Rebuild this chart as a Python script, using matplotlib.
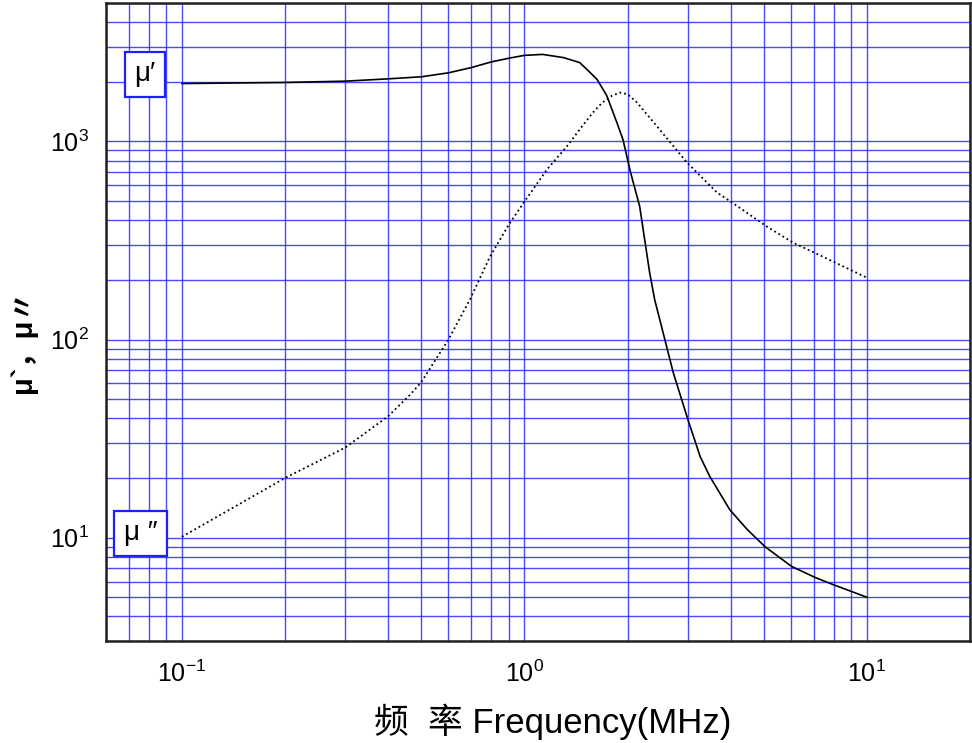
import matplotlib
matplotlib.use("Agg")
import matplotlib.pyplot as plt

plt.rcParams["font.family"] = ["Liberation Sans", "Noto Sans CJK SC", "DejaVu Sans"]
plt.rcParams["mathtext.fontset"] = "custom"
plt.rcParams["mathtext.rm"] = "Liberation Sans"
plt.rcParams["mathtext.it"] = "Liberation Sans"
plt.rcParams["axes.unicode_minus"] = False

freq_real = [0.1, 0.2, 0.3, 0.4, 0.5, 0.6, 0.7, 0.8, 0.9, 1.0, 1.13, 1.3, 1.45,
             1.55, 1.63, 1.74, 1.86, 1.94, 2.04, 2.17, 2.32, 2.40, 2.49, 2.57,
             2.72, 3.0, 3.26, 3.48, 3.98, 4.47, 5.04, 6.03, 7.05, 7.95, 10]
mu_real = [1960, 1985, 2015, 2070, 2120, 2220, 2360, 2520, 2630, 2720, 2750, 2650, 2500,
           2240, 2055, 1700, 1250, 1020, 700, 470, 218, 159, 124, 100,
           68, 39.5, 25.6, 20.3, 13.8, 11.0, 9.0, 7.15, 6.3, 5.8, 5.0]

# mu'' (imaginary part)
freq_imag = [0.1, 0.2, 0.3, 0.4, 0.464, 0.5, 0.6, 0.693, 0.793, 0.9, 1.0, 1.164,
             1.33, 1.45, 1.585, 1.69, 1.8, 1.9, 2.0, 2.13, 2.44, 2.98, 3.65, 3.98,
             5.1, 6.07, 7.95, 10]
mu_imag = [10.1, 20, 28.5, 41, 52.7, 61, 100, 159, 262, 380, 497, 722,
           944, 1150, 1400, 1574, 1700, 1766, 1730, 1574, 1190, 783, 552, 500,
           372, 309, 248, 205]

fig = plt.figure(figsize=(9.72, 7.43), dpi=100)
ax = fig.add_axes([0.109, 0.137, 0.889, 0.859])

ax.plot(freq_real, mu_real, "-", color="black", lw=1.2, zorder=3)
ax.plot(freq_imag, mu_imag, ":", color="black", lw=1.3, zorder=3)

ax.set_xscale("log")
ax.set_yscale("log")
ax.set_xlim(0.06, 20)
ax.set_ylim(3, 5000)

ax.grid(True, which="both", color="#2a2aff", lw=1.0, alpha=0.85)
ax.set_axisbelow(True)
ax.tick_params(which="both", length=0, labelsize=18)
ax.tick_params(axis="x", pad=14)
ax.tick_params(axis="y", pad=12)
ax.set_xticks([0.1, 1, 10])
ax.set_yticks([10, 100, 1000])
ax.set_xticklabels([r"$10^{-1}$", r"$10^{0}$", r"$10^{1}$"])
ax.set_yticklabels([r"$10^{1}$", r"$10^{2}$", r"$10^{3}$"])

for s in ax.spines.values():
    s.set_color("#222222")
    s.set_linewidth(1.8)

box = dict(boxstyle="square,pad=0.35", facecolor="white", edgecolor="#2020ff", lw=1.6)
ax.text(0.078, 2180, "μ\u2032", fontsize=20, ha="center", va="center", bbox=box, zorder=4)
ax.text(0.0759, 10.5, "μ \u2033", fontsize=20, ha="center", va="center", bbox=box, zorder=4)

ax.set_xlabel("频  率 Frequency(MHz)", fontsize=25)
ax.xaxis.set_label_coords(0.517, -0.098)
ax.set_ylabel("μ`，μ〃", fontsize=21, fontweight="bold")
ax.yaxis.set_label_coords(-0.080, 0.47)

fig.savefig("out.png", dpi=100)
plt.close(fig)
